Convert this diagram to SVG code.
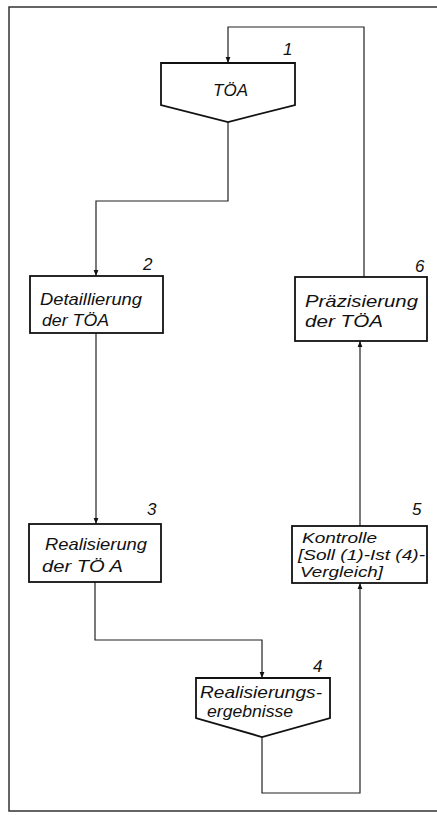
<svg xmlns="http://www.w3.org/2000/svg" width="437" height="815" viewBox="0 0 437 815">
<style>
.frame{fill:none;stroke:#333;stroke-width:1.5}
.box{fill:#fff;stroke:#111;stroke-width:1.8}
.conn{fill:none;stroke:#222;stroke-width:1.2}
text{font-family:"Liberation Sans",Arial,sans-serif;font-style:italic;fill:#111;font-size:17px}
.small{font-size:14px}
</style>
<defs>
<marker id="arr" viewBox="0 0 10 10" refX="10" refY="5" markerWidth="6" markerHeight="7" markerUnits="userSpaceOnUse" orient="auto">
<path d="M0,1 L10,5 L0,9 Z" fill="#111"/>
</marker>
</defs>
<rect width="437" height="815" fill="#fff"/>
<path class="frame" d="M437,7 H9 V811 H437"/>
<g id="connectors">
<path class="conn" d="M228,122 V201 H96 V276" marker-end="url(#arr)"/>
<path class="conn" d="M96,333 V524" marker-end="url(#arr)"/>
<path class="conn" d="M95,582 V640 H262 V678" marker-end="url(#arr)"/>
<path class="conn" d="M262,737 V793 H360 V583" marker-end="url(#arr)"/>
<path class="conn" d="M360,526 V341" marker-end="url(#arr)"/>
<path class="conn" d="M364,277 V27 H228 V63" marker-end="url(#arr)"/>
</g>
<g id="node1">
<path class="box" d="M161,63 H295 V105 L228,122 L161,105 Z"/>
<text x="213" y="96" textLength="35" lengthAdjust="spacingAndGlyphs">TÖA</text>
<text x="283" y="55">1</text>
</g>
<g id="node2">
<rect class="box" x="30" y="276" width="133" height="57"/>
<text x="40" y="305" textLength="102" lengthAdjust="spacingAndGlyphs">Detaillierung</text>
<text x="42" y="326" textLength="67" lengthAdjust="spacingAndGlyphs">der TÖA</text>
<text x="143" y="270">2</text>
</g>
<g id="node3">
<rect class="box" x="29" y="524" width="132" height="58"/>
<text x="45" y="550" textLength="102" lengthAdjust="spacingAndGlyphs">Realisierung</text>
<text x="42" y="572" textLength="81" lengthAdjust="spacingAndGlyphs">der TÖ A</text>
<text x="147" y="515">3</text>
</g>
<g id="node4">
<path class="box" d="M196,678 H330 V718 L262,737 L196,718 Z"/>
<text x="200" y="698" textLength="122" lengthAdjust="spacingAndGlyphs">Realisierungs-</text>
<text x="207" y="717" textLength="86" lengthAdjust="spacingAndGlyphs">ergebnisse</text>
<text x="313" y="672">4</text>
</g>
<g id="node5">
<rect class="box" x="292" y="526" width="135" height="57"/>
<text class="small" x="302" y="543" textLength="75" lengthAdjust="spacingAndGlyphs">Kontrolle</text>
<text class="small" x="298" y="560" textLength="127" lengthAdjust="spacingAndGlyphs">[Soll (1)-Ist (4)-</text>
<text class="small" x="300" y="577" textLength="83" lengthAdjust="spacingAndGlyphs">Vergleich]</text>
<text x="412" y="515">5</text>
</g>
<g id="node6">
<rect class="box" x="295" y="277" width="132" height="64"/>
<text x="305" y="307" textLength="113" lengthAdjust="spacingAndGlyphs">Präzisierung</text>
<text x="305" y="327" textLength="78" lengthAdjust="spacingAndGlyphs">der TÖA</text>
<text x="415" y="272">6</text>
</g>
</svg>
